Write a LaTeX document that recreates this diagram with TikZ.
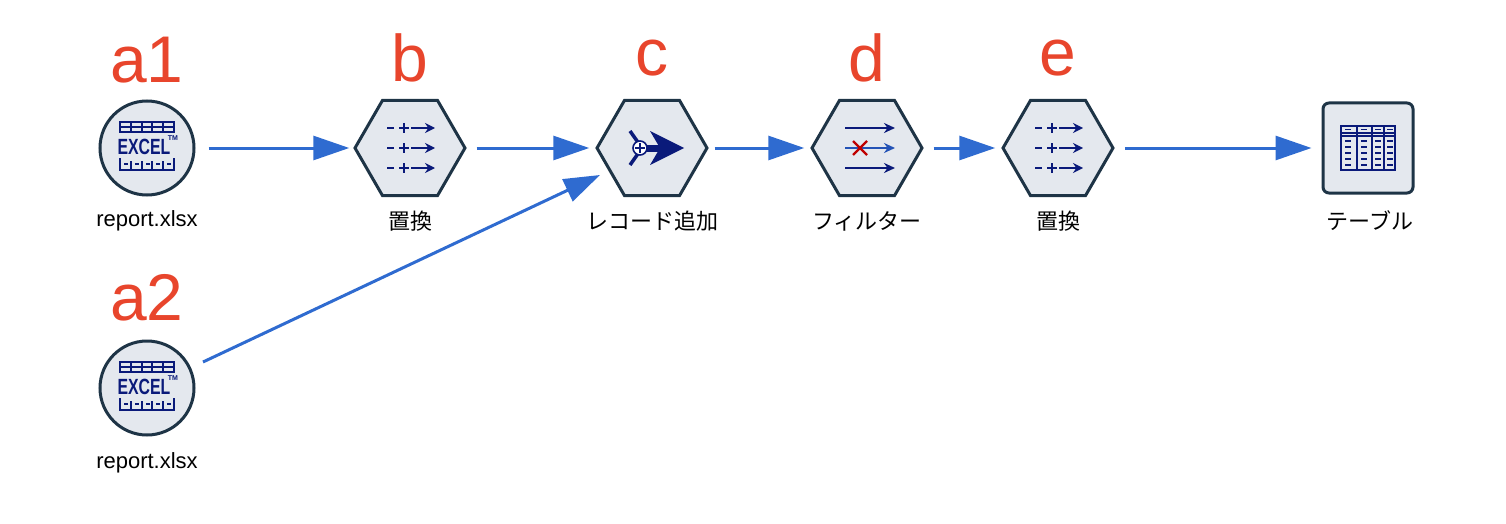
\documentclass[tikz,border=0pt]{standalone}
\usepackage{fontspec}
\setmainfont{Liberation Sans}
\newfontfamily\jp{Noto Sans CJK JP}
\usetikzlibrary{shapes.geometric,arrows.meta}
\definecolor{bord}{HTML}{1E3446}
\definecolor{fillg}{HTML}{E4E8EE}
\definecolor{arr}{HTML}{2F6BD0}
\definecolor{lab}{HTML}{E8452C}
\definecolor{navy}{HTML}{0A1A7A}
\begin{document}
\begin{tikzpicture}[x=1pt,y=-1pt,
 circ/.style={circle,draw=bord,fill=fillg,line width=3pt,minimum size=94pt,inner sep=0},
 hex/.style={regular polygon,regular polygon sides=6,draw=bord,fill=fillg,line width=3pt,minimum size=110pt,inner sep=0},
 sq/.style={rectangle,rounded corners=6pt,draw=bord,fill=fillg,line width=3pt,minimum size=90pt,inner sep=0},
 conn/.style={draw=arr,line width=3pt,-{Triangle[length=36pt,width=24pt]}},
 big/.style={text=lab,font=\fontsize{66}{68}\selectfont},
 txt/.style={font=\fontsize{22}{24}\selectfont},
 ic/.style={navy,line width=1.8pt}]
\useasboundingbox (0,0) rectangle (1506,524);
\node[circ] (a1) at (147,148) {};
\node[circ] (a2) at (147,388) {};
\node[hex] (b) at (410,148) {};
\node[hex] (c) at (652,148) {};
\node[hex] (d) at (867,148) {};
\node[hex] (e) at (1058,148) {};
\node[sq] (t) at (1368,148) {};
% labels
\node[big] (la1) at (147,60) {a1};
\node[big] (la2) at (147,298) {a2};
\node[big] (lb) at (410,58) {b};
\node[big] (lc) at (652,58) {c};
\node[big] (ld) at (867,58) {d};
\node[big] (le) at (1058,58) {e};
\node[txt] (t1) at (147,221) {report.xlsx};
\node[txt] (t2) at (147,463) {report.xlsx};
\node[txt] (t3) at (410,221) {\jp 置換};
\node[txt] (t4) at (652,221) {\jp レコード追加};
\node[txt] (t5) at (867,221) {\jp フィルター};
\node[txt] (t6) at (1058,221) {\jp 置換};
\node[txt] (t7) at (1370,221) {\jp テーブル};
% connectors
\draw[conn] (a1.east)++(13,0) coordinate (s1) -- ([xshift=-4pt]b.west);
\draw[conn] ([xshift=10pt]b.east) -- ([xshift=-6pt]c.west);
\draw[conn] ([xshift=6pt]c.east) -- ([xshift=-6pt]d.west);
\draw[conn] ([xshift=10pt]d.east) -- ([xshift=-6pt]e.west);
\draw[conn] ([xshift=10pt]e.east) -- ([xshift=-10pt]t.west);
\coordinate (s2) at (203,362);
\coordinate (c2) at (600,175);
\draw[conn] (s2) -- (c2);
% excel icons
\foreach \n in {a1,a2}{
 \begin{scope}[shift={(\n)}]
  \draw[navy,line width=1.3pt] (-27,-26) rectangle (27,-16) (-27,-21)--(27,-21);
  \foreach \x in {-16,-5,5,16} \draw[navy,line width=1.3pt] (\x,-26)--(\x,-16);
  \node[navy,font=\bfseries\fontsize{22}{22}\selectfont,inner sep=0,xscale=0.72] at (-3,-1) {EXCEL};
  \node[navy,font=\bfseries\fontsize{7}{7}\selectfont,inner sep=0] at (26,-10) {TM};
  \draw[navy,line width=1.3pt] (-27,10)--(-27,22)--(27,22)--(27,10);
  \foreach \x in {-16,-5,5,16} \draw[navy,line width=1.3pt] (\x,13)--(\x,22);
  \foreach \x in {-23,-12,-1,9,20} \draw[navy,line width=1.3pt] (\x,16)--(\x+4,16);
 \end{scope}}
% replace icons
\foreach \n in {b,e}{
 \begin{scope}[shift={(\n)}]
  \foreach \y in {-20,0,20}{
   \draw[ic,line width=1.6pt] (-23,\y)--(-16,\y) (-11,\y)--(-1,\y) (-6,\y-5)--(-6,\y+5);
   \draw[ic,line width=2pt,-{Stealth[length=10pt,width=10pt]}] (1,\y)--(25,\y);}
 \end{scope}}
% append icon
\begin{scope}[shift={(c)}]
 \draw[navy,line width=3.5pt] (-22,-17)--(-10,0)--(-22,17);
 \fill[navy] (-10,-3.5) rectangle (8,3.5);
 \fill[navy] (-2,-17)--(32,0)--(-2,17)--(8,0)--cycle;
 \draw[navy,fill=white,line width=1.6pt] (-12,0) circle (7pt);
 \draw[navy,line width=1.6pt] (-17,0)--(-7,0) (-12,-5)--(-12,5);
\end{scope}
% filter icon
\begin{scope}[shift={(d)}]
 \draw[ic,line width=2.2pt,-{Stealth[length=11pt,width=10pt]}] (-22,-20)--(28,-20);
 \draw[ic,line width=2.2pt,-{Stealth[length=11pt,width=10pt]}] (-22,20)--(28,20);
 \draw[arr!70!navy,line width=2.2pt,-{Stealth[length=11pt,width=10pt]}] (-22,0)--(28,0);
 \draw[red!75!black,line width=2.4pt] (-14,-7)--(0,7) (-14,7)--(0,-7);
\end{scope}
% table icon
\begin{scope}[shift={(t)}]
 \draw[navy,line width=2pt] (-27,-22) rectangle (27,22);
 \draw[navy,line width=1.3pt] (-27,-15)--(27,-15) (-27,-12)--(27,-12);
 \foreach \x in {-11,4,16} \draw[navy,line width=1.6pt] (\x,-22)--(\x,22);
 \foreach \y in {-18.5,-7,-1,5,11,17} \foreach \x in {-23,-7,7,19} \draw[navy,line width=1.4pt] (\x,\y)--(\x+6,\y);
\end{scope}
\end{tikzpicture}
\end{document}
